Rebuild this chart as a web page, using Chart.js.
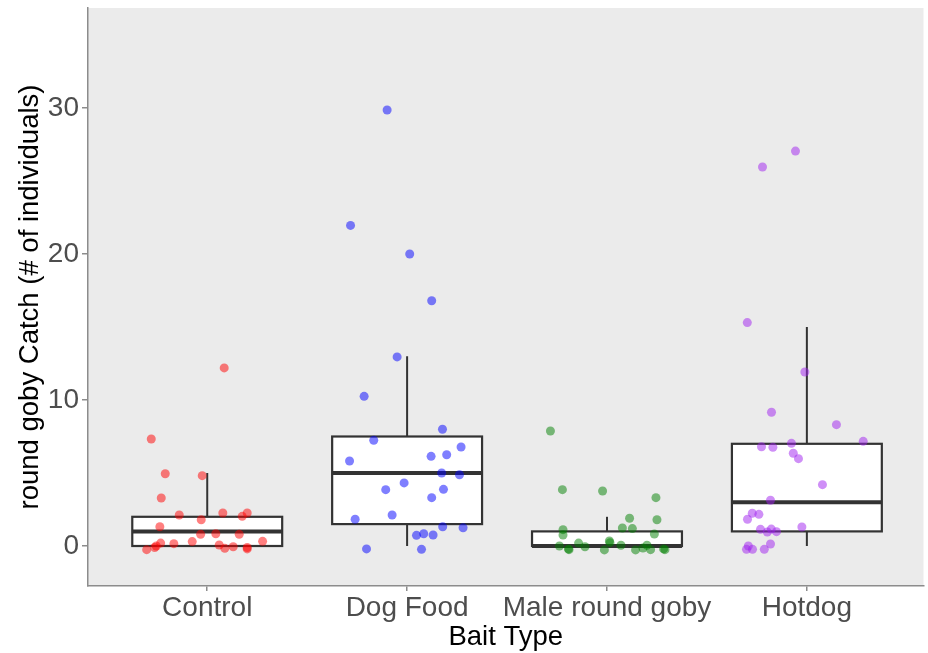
<!DOCTYPE html>
<html>
<head>
<meta charset="utf-8">
<script src="https://cdn.jsdelivr.net/npm/chart.js@4/dist/chart.umd.min.js"></script>
<style>
  body { margin: 0; background: #fff; }
  canvas { display: block; }
</style>
</head>
<body>
<canvas id="chart" width="928" height="653"></canvas>
<script>
// categories and axis ticks
const categories = ['Control', 'Dog Food', 'Male round goby', 'Hotdog'];
const yTicks = [0, 10, 20, 30];

// box stats (one per category)
const boxLow = [0, 0, 0, 0];
const boxQ1 = [0, 1.5, 0, 1];
const boxMedian = [1, 5, 0, 3];
const boxQ3 = [2, 7.5, 1, 7];
const boxHigh = [5, 13, 2, 15];

// jittered points: x is category position plus jitter, y is catch
const controlX = [1.085, 0.72, 0.79, 0.975, 0.77, 0.86, 0.97, 1.078, 1.175, 1.2, 0.763, 0.967, 1.043, 1.16, 0.767, 0.833, 0.925, 1.277, 0.697, 0.737, 0.745, 1.06, 1.088, 1.13, 1.2, 1.2];
const controlY = [12.2, 7.33, 4.95, 4.82, 3.29, 2.12, 1.8, 2.26, 2.03, 2.26, 1.32, 0.8, 0.84, 0.8, 0.2, 0.16, 0.3, 0.32, -0.25, -0.1, 0, 0.07, -0.16, -0.05, -0.1, -0.2];

const dogFoodX = [1.9, 1.717, 2.013, 2.123, 1.95, 1.785, 2.177, 1.833, 2.27, 1.712, 2.12, 2.198, 2.173, 2.262, 1.985, 1.893, 2.182, 2.123, 1.925, 1.74, 2.178, 2.28, 2.047, 2.083, 2.13, 1.797, 2.072];
const dogFoodY = [29.86, 21.96, 20.0, 16.8, 12.95, 10.25, 8.0, 7.24, 6.78, 5.82, 6.14, 6.25, 5.0, 4.88, 4.32, 3.86, 3.88, 3.31, 2.12, 1.83, 1.32, 1.25, 0.73, 0.84, 0.75, -0.2, -0.23];

const maleGobyX = [2.717, 2.777, 2.978, 3.245, 3.113, 3.25, 3.077, 3.127, 2.78, 2.78, 3.237, 3.012, 3.015, 2.858, 3.07, 2.762, 2.89, 3.2, 3.18, 2.807, 2.81, 2.987, 3.143, 3.218, 3.283, 3.29];
const maleGobyY = [7.88, 3.86, 3.77, 3.31, 1.9, 1.8, 1.23, 1.19, 1.12, 0.75, 0.82, 0.34, 0.23, 0.2, 0.05, 0, -0.05, 0.05, -0.14, -0.2, -0.25, -0.27, -0.27, -0.25, -0.2, -0.25];

const hotdogX = [3.943, 3.778, 3.702, 3.99, 3.823, 4.148, 4.282, 3.773, 3.83, 3.923, 3.932, 3.958, 4.078, 3.818, 3.727, 3.76, 3.703, 3.975, 3.768, 3.822, 3.802, 3.848, 3.818, 3.707, 3.698, 3.728, 3.787];
const hotdogY = [27.05, 25.96, 15.3, 11.92, 9.16, 8.31, 7.17, 6.8, 6.76, 7.03, 6.35, 5.98, 4.2, 3.13, 2.24, 2.17, 1.83, 1.3, 1.14, 1.16, 0.96, 0.98, 0.14, 0, -0.23, -0.23, -0.23];

const pointColors = ['rgba(255,0,0,0.5)', 'rgba(0,0,255,0.5)', 'rgba(0,128,0,0.5)', 'rgba(160,32,240,0.5)'];
const groupsX = [controlX, dogFoodX, maleGobyX, hotdogX];
const groupsY = [controlY, dogFoodY, maleGobyY, hotdogY];

const toPoints = (xs, ys) => xs.map((x, i) => ({ x: x, y: ys[i] }));

const panelBg = {
    id: 'panelBg',
    beforeDraw(chart) {
        const { ctx, chartArea: a } = chart;
        ctx.save();
        ctx.fillStyle = '#EBEBEB';
        ctx.fillRect(a.left, a.top, a.right - a.left, a.bottom - a.top);
        ctx.restore();
    }
};

// boxes and whiskers, placed through the chart's scales
const boxPlot = {
    id: 'boxPlot',
    beforeDatasetsDraw(chart) {
        const { ctx, scales: { x, y } } = chart;
        const halfWidth = 0.375;
        ctx.save();
        ctx.strokeStyle = '#333333';
        categories.forEach((c, i) => {
            const pos = i + 1;
            const cx = x.getPixelForValue(pos);
            const left = x.getPixelForValue(pos - halfWidth);
            const right = x.getPixelForValue(pos + halfWidth);
            const q1 = y.getPixelForValue(boxQ1[i]);
            const q3 = y.getPixelForValue(boxQ3[i]);
            const med = y.getPixelForValue(boxMedian[i]);
            const lo = y.getPixelForValue(boxLow[i]);
            const hi = y.getPixelForValue(boxHigh[i]);

            ctx.lineWidth = 2;
            ctx.beginPath();
            ctx.moveTo(cx, q3); ctx.lineTo(cx, hi);
            ctx.moveTo(cx, q1); ctx.lineTo(cx, lo);
            ctx.stroke();

            ctx.fillStyle = '#ffffff';
            ctx.fillRect(left, q3, right - left, q1 - q3);
            ctx.lineWidth = 2.2;
            ctx.strokeRect(left, q3, right - left, q1 - q3);

            ctx.lineWidth = 4;
            ctx.beginPath();
            ctx.moveTo(left, med); ctx.lineTo(right, med);
            ctx.stroke();
        });
        ctx.restore();
    }
};

const tickFont = { family: "'Liberation Sans', Arial, sans-serif", size: 28 };
const titleFont = { family: "'Liberation Sans', Arial, sans-serif", size: 27.5 };

const noPadding = scale => {
    scale.paddingTop = 0;
    scale.paddingBottom = 0;
    scale.paddingLeft = 0;
    scale.paddingRight = 0;
};

new Chart(document.getElementById('chart'), {
    type: 'scatter',
    data: {
        datasets: categories.map((c, i) => ({
            label: c,
            data: toPoints(groupsX[i], groupsY[i]),
            backgroundColor: pointColors[i],
            borderWidth: 0,
            pointRadius: 4.5,
            pointHoverRadius: 4.5
        }))
    },
    options: {
        responsive: false,
        animation: false,
        devicePixelRatio: 1,
        layout: { padding: { top: 8, right: 4, left: 0, bottom: 0 } },
        plugins: { legend: { display: false }, tooltip: { enabled: false } },
        scales: {
            x: {
                type: 'linear',
                min: 0.4035,
                max: 4.5835,
                afterBuildTicks: scale => { scale.ticks = categories.map((c, i) => ({ value: i + 1 })); },
                afterFit: scale => { scale.height = 67; noPadding(scale); },
                ticks: {
                    callback: v => categories[v - 1],
                    color: '#4D4D4D',
                    font: tickFont,
                    padding: 0,
                    maxRotation: 0,
                    autoSkip: false
                },
                grid: { drawOnChartArea: false, drawTicks: true, tickLength: 5, color: '#8c8c8c', lineWidth: 1.5 },
                border: { display: true, color: '#8c8c8c', width: 1.5 },
                title: { display: true, text: 'Bait Type', color: '#000', font: titleFont, padding: { top: 0, bottom: -1 } }
            },
            y: {
                type: 'linear',
                min: -2.74,
                max: 36.85,
                afterBuildTicks: scale => { scale.ticks = yTicks.map(v => ({ value: v })); },
                afterFit: scale => { scale.width = 88; noPadding(scale); },
                ticks: { color: '#4D4D4D', font: tickFont, padding: 3 },
                grid: { drawOnChartArea: false, drawTicks: true, tickLength: 6, color: '#8c8c8c', lineWidth: 1.5 },
                border: { display: true, color: '#8c8c8c', width: 1.5 },
                title: { display: true, text: 'round goby Catch (# of individuals)', color: '#000', font: titleFont, padding: { top: 13.5, bottom: 0 } }
            }
        }
    },
    plugins: [panelBg, boxPlot]
});
</script>
</body>
</html>
